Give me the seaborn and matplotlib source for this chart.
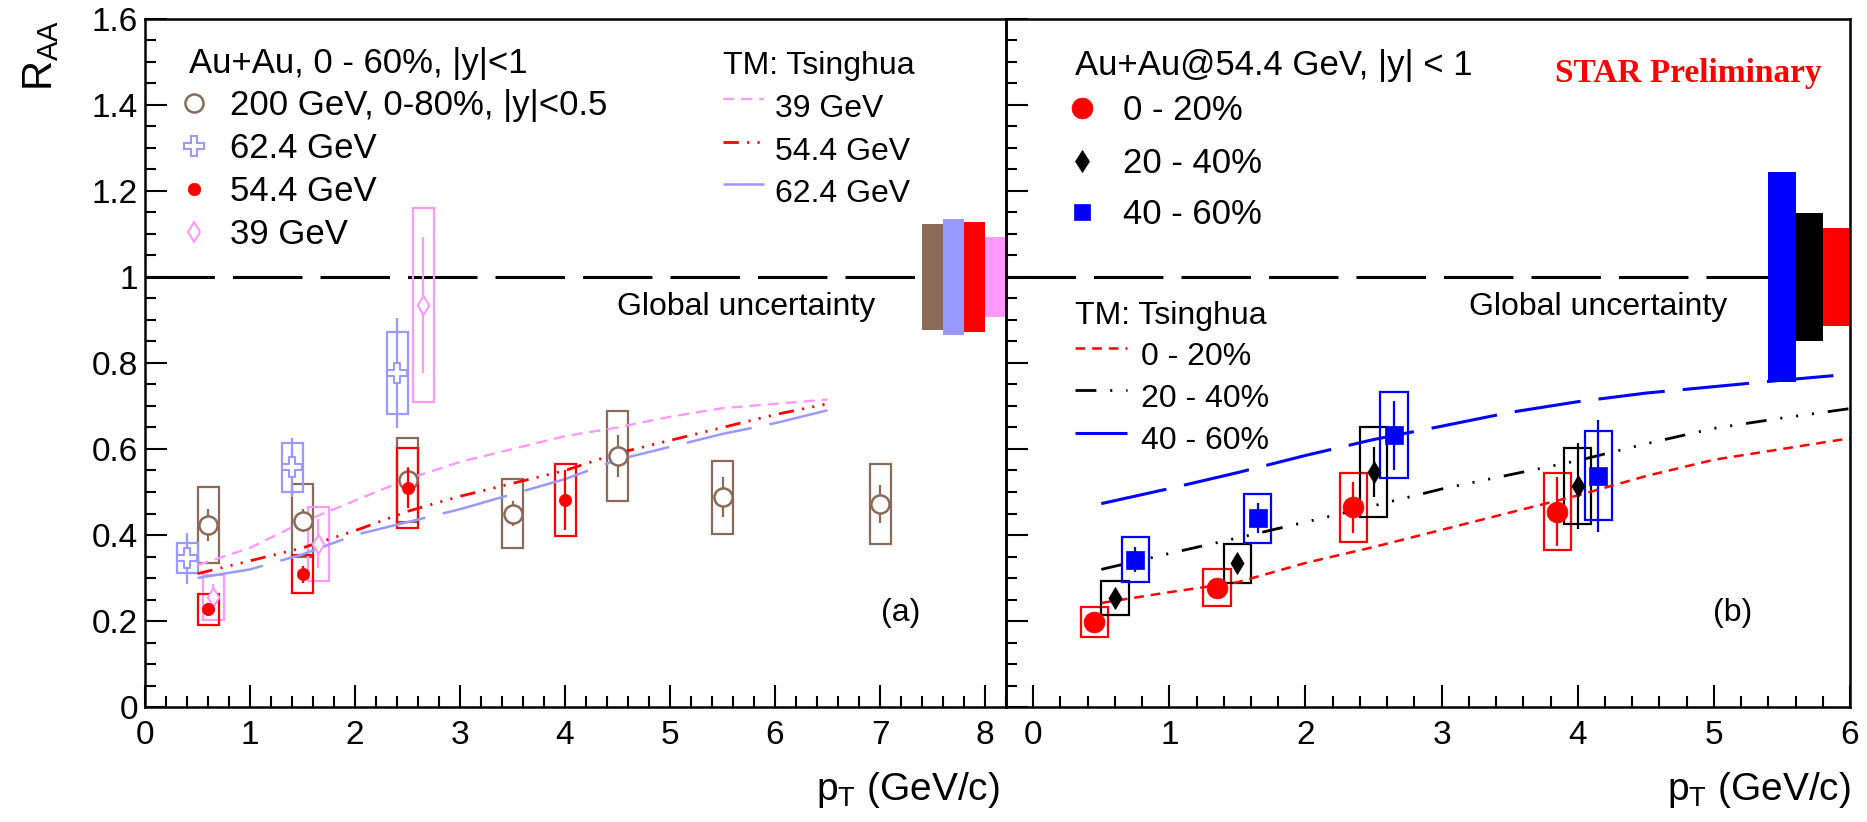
import numpy as np
import pandas as pd
import matplotlib
matplotlib.use("Agg")
import matplotlib.pyplot as plt
import matplotlib.transforms as mtransforms
from matplotlib.lines import Line2D
from matplotlib.patches import Rectangle
from matplotlib.ticker import MultipleLocator, FixedLocator, FixedFormatter
import seaborn as sns

# ---------------- panel (a): Au+Au 0-60 %, energy comparison ----------------
pt_200 = [0.6, 1.5, 2.5, 3.5, 4.5, 5.5, 7.0]
raa_200 = [0.423, 0.433, 0.528, 0.450, 0.584, 0.488, 0.472]
stat_200 = [0.038, 0.027, 0.030, 0.030, 0.048, 0.046, 0.044]
sys_200 = [0.088, 0.085, 0.097, 0.080, 0.104, 0.085, 0.092]

pt_624 = [0.4, 1.4, 2.4]
raa_624 = [0.346, 0.557, 0.776]
stat_624 = [0.059, 0.069, 0.128]
sys_624 = [0.035, 0.057, 0.095]

pt_544 = [0.6, 1.5, 2.5, 4.0]
raa_544 = [0.227, 0.309, 0.509, 0.481]
stat_544 = [0.015, 0.020, 0.047, 0.070]
sys_544 = [0.036, 0.045, 0.093, 0.083]

pt_39 = [0.65, 1.65, 2.65]
raa_39 = [0.255, 0.380, 0.935]
stat_39 = [0.030, 0.057, 0.158]
sys_39 = [0.053, 0.086, 0.225]

# TM (Tsinghua) model curves, panel (a)
tm_pt_a = [0.5, 1.0, 1.5, 2.0, 2.5, 3.0, 3.5, 4.0, 4.5, 5.0, 5.5, 6.0, 6.5]
tm_39 = [0.33, 0.37, 0.43, 0.48, 0.53, 0.57, 0.60, 0.63, 0.65, 0.675, 0.695, 0.705, 0.715]
tm_544 = [0.31, 0.34, 0.37, 0.41, 0.455, 0.49, 0.52, 0.55, 0.59, 0.62, 0.65, 0.68, 0.705]
tm_624 = [0.30, 0.32, 0.355, 0.40, 0.43, 0.46, 0.495, 0.53, 0.575, 0.605, 0.635, 0.66, 0.69]

# global (normalisation) uncertainties, panel (a): 200, 62.4, 54.4, 39 GeV
glob_a = [0.123, 0.136, 0.128, 0.094]

# ---------------- panel (b): Au+Au 54.4 GeV, centrality classes ----------------
pt_0_20 = [0.45, 1.35, 2.35, 3.85]
raa_0_20 = [0.198, 0.277, 0.464, 0.454]
stat_0_20 = [0.015, 0.020, 0.060, 0.080]
sys_0_20 = [0.035, 0.043, 0.080, 0.090]

pt_20_40 = [0.6, 1.5, 2.5, 4.0]
raa_20_40 = [0.253, 0.334, 0.547, 0.514]
stat_20_40 = [0.015, 0.020, 0.058, 0.100]
sys_20_40 = [0.040, 0.045, 0.105, 0.088]

pt_40_60 = [0.75, 1.65, 2.65, 4.15]
raa_40_60 = [0.343, 0.439, 0.632, 0.538]
stat_40_60 = [0.030, 0.035, 0.080, 0.130]
sys_40_60 = [0.053, 0.057, 0.100, 0.104]

tm_pt_b = [0.5, 1.0, 1.5, 2.0, 2.5, 3.0, 3.5, 4.0, 4.5, 5.0, 5.5, 6.0]
tm_0_20 = [0.242, 0.267, 0.29, 0.335, 0.372, 0.412, 0.452, 0.492, 0.537, 0.575, 0.60, 0.625]
tm_20_40 = [0.32, 0.357, 0.393, 0.43, 0.468, 0.507, 0.54, 0.573, 0.612, 0.648, 0.672, 0.694]
tm_40_60 = [0.473, 0.508, 0.545, 0.585, 0.622, 0.653, 0.685, 0.71, 0.73, 0.745, 0.76, 0.774]

# global uncertainties, panel (b): 40-60, 20-40, 0-20 %
glob_b = [0.245, 0.149, 0.115]

x_ticks_a = ["0", "1", "2", "3", "4", "5", "6", "7", "8"]
x_ticks_b = ["0", "1", "2", "3", "4", "5", "6"]
y_ticks = ["0", "0.2", "0.4", "0.6", "0.8", "1", "1.2", "1.4", "1.6"]

# ---------------- colours ----------------
BROWN = "#8b6a5a"
LBLUE = "#9999ff"
RED = "#ff0000"
PINK = "#ff99ff"
BLUE = "#0000ff"
BLACK = "#000000"

# ---------------- style ----------------
sns.set_theme(style="ticks")
plt.rcParams["font.family"] = ["Liberation Sans", "DejaVu Sans"]
plt.rcParams["mathtext.default"] = "regular"
plt.rcParams["lines.scale_dashes"] = False

W, H = 1867, 822
fig = plt.figure(figsize=(W / 100, H / 100), dpi=100)
fig.patch.set_facecolor("white")
# pixel coordinates measured from the top-left corner of the canvas
PX = mtransforms.Affine2D().scale(1 / W, -1 / H).translate(0, 1) + fig.transFigure

Y0, Y1 = 707, 19
ax_a = fig.add_axes([145 / W, 1 - Y0 / H, (1006 - 145) / W, (Y0 - Y1) / H])
ax_b = fig.add_axes([1006 / W, 1 - Y0 / H, (1850 - 1006) / W, (Y0 - Y1) / H])
ax_b.set_facecolor("none")

DASH_1 = (50, 13)
PINK_DASH = (8, 5)
RED_DDD = (11, 6, 1.5, 6, 1.5, 6, 1.5, 6)
LONG_DASH = (48, 13)
RED_DASH = (7, 5)
BLACK_DDD = (15, 10, 1.5, 10, 1.5, 10, 1.5, 10)


def draw_series(ax, x, y, stat, syst, color, marker, size, face, lw_m=1.6, z=4):
    """Systematic boxes, statistical bars and markers for one data set."""
    for xi, yi, si in zip(x, y, syst):
        ax.add_patch(Rectangle((xi - 0.1, yi - si), 0.2, 2 * si, fill=False,
                               edgecolor=color, linewidth=1.6, zorder=2))
    ax.errorbar(x, y, yerr=stat, fmt="none", ecolor=color, elinewidth=1.6,
                capsize=0, zorder=z - 0.5)
    df = pd.DataFrame({"pt": x, "raa": y})
    sns.scatterplot(data=df, x="pt", y="raa", ax=ax, marker=marker, s=size,
                    facecolor=face, edgecolor=color, linewidth=lw_m,
                    zorder=z, legend=False)


def draw_model(ax, x, y, color, pattern, lw):
    df = pd.DataFrame({"pt": x, "raa": y})
    sns.lineplot(data=df, x="pt", y="raa", ax=ax, color=color, linewidth=lw,
                 errorbar=None, sort=False, zorder=2.5)
    ax.lines[-1].set_linestyle((0, pattern))


# ---------------- panel (a) ----------------
ax_a.plot([0, 7.4], [1, 1], color="black", lw=2.2, linestyle=(0, DASH_1), zorder=1.5)
ax_a.bar([7.4, 7.6, 7.8, 8.0], [2 * g for g in glob_a],
         bottom=[1 - g for g in glob_a], width=0.2, align="edge",
         color=[BROWN, LBLUE, RED, PINK], linewidth=0, zorder=2)

draw_model(ax_a, tm_pt_a, tm_39, PINK, PINK_DASH, 1.7)
draw_model(ax_a, tm_pt_a, tm_544, RED, RED_DDD, 2.0)
draw_model(ax_a, tm_pt_a, tm_624, LBLUE, LONG_DASH, 1.8)

draw_series(ax_a, pt_200, raa_200, stat_200, sys_200, BROWN, "o", 170, "white", 1.8)
draw_series(ax_a, pt_624, raa_624, stat_624, sys_624, LBLUE, "P", 200, "white", 1.5)
draw_series(ax_a, pt_39, raa_39, stat_39, sys_39, PINK, "d", 95, "white", 1.5)
draw_series(ax_a, pt_544, raa_544, stat_544, sys_544, RED, "o", 78, RED, 0.5, z=5)

# ---------------- panel (b) ----------------
ax_b.plot([-0.2, 5.4], [1, 1], color="black", lw=2.2, linestyle=(0, DASH_1), zorder=1.5)
ax_b.bar([5.4, 5.6, 5.8], [2 * g for g in glob_b],
         bottom=[1 - g for g in glob_b], width=0.2, align="edge",
         color=[BLUE, BLACK, RED], linewidth=0, zorder=2)

draw_model(ax_b, tm_pt_b, tm_0_20, RED, RED_DASH, 1.8)
draw_model(ax_b, tm_pt_b, tm_20_40, BLACK, BLACK_DDD, 2.0)
draw_model(ax_b, tm_pt_b, tm_40_60, BLUE, LONG_DASH, 2.2)

draw_series(ax_b, pt_0_20, raa_0_20, stat_0_20, sys_0_20, RED, "o", 225, RED, 0.5)
draw_series(ax_b, pt_20_40, raa_20_40, stat_20_40, sys_20_40, BLACK, "d", 125, BLACK, 0.5)
draw_series(ax_b, pt_40_60, raa_40_60, stat_40_60, sys_40_60, BLUE, "s", 150, BLUE, 0.5)

# ---------------- axes cosmetics ----------------
for ax in (ax_a, ax_b):
    ax.set_xlabel("")
    ax.set_ylabel("")
    ax.set_ylim(0, 1.6)
    ax.yaxis.set_major_locator(FixedLocator(np.arange(9) * 0.2))
    ax.yaxis.set_minor_locator(MultipleLocator(0.05))
    ax.xaxis.set_minor_locator(MultipleLocator(0.2))
    ax.tick_params(which="both", direction="in", top=False, right=False,
                   width=1.5, color="black", labelcolor="black")
    ax.tick_params(which="major", length=16)
    ax.tick_params(which="minor", length=8)
    ax.tick_params(axis="x", pad=9, labelsize=24)
    ax.tick_params(axis="y", pad=5, labelsize=24)
    for sp in ax.spines.values():
        sp.set_visible(True)
        sp.set_linewidth(1.8)
        sp.set_color("black")
    ax.grid(False)

ax_a.set_xlim(0, 8.2)
ax_a.xaxis.set_major_locator(FixedLocator(range(len(x_ticks_a))))
ax_a.xaxis.set_major_formatter(FixedFormatter(x_ticks_a))
ax_a.yaxis.set_major_formatter(FixedFormatter(y_ticks))

ax_b.set_xlim(-0.2, 6)
ax_b.xaxis.set_major_locator(FixedLocator(range(len(x_ticks_b))))
ax_b.xaxis.set_major_formatter(FixedFormatter(x_ticks_b))
ax_b.tick_params(axis="y", labelleft=False)


# ---------------- legends and labels (pixel placement) ----------------
def ptext(x, y, s, **kw):
    kw.setdefault("va", "baseline")
    kw.setdefault("ha", "left")
    kw.setdefault("color", "black")
    fig.text(x, y, s, transform=PX, **kw)


def pmarker(x, y, **kw):
    fig.add_artist(Line2D([x], [y], transform=PX, linestyle="none", **kw))


def pline(x0, x1, y, **kw):
    fig.add_artist(Line2D([x0, x1], [y, y], transform=PX, **kw))


LEG = 25
TM = 23

# panel (a) data legend
ptext(189, 73.5, "Au+Au, 0 - 60%, |y|<1", fontsize=LEG)
rows_a = [
    (103, "200 GeV, 0-80%, |y|<0.5", dict(marker="o", markersize=13, mfc="white", mec=BROWN, mew=1.8)),
    (146, "62.4 GeV", dict(marker="P", markersize=14, mfc="white", mec=LBLUE, mew=1.5)),
    (189, "54.4 GeV", dict(marker="o", markersize=9, mfc=RED, mec=RED, mew=0.5)),
    (232, "39 GeV", dict(marker="d", markersize=9.7, mfc="white", mec=PINK, mew=1.5)),
]
for yc, lab, mk in rows_a:
    pmarker(194, yc, **mk)
    ptext(230.5, yc + 12.4, lab, fontsize=LEG)

# panel (a) model legend
ptext(722.7, 74.4, "TM: Tsinghua", fontsize=TM)
rows_tm_a = [
    (98.7, 117, "39 GeV", PINK, PINK_DASH, 1.7),
    (142, 160.5, "54.4 GeV", RED, RED_DDD, 2.0),
    (183.7, 202, "62.4 GeV", LBLUE, LONG_DASH, 1.8),
]
for yl, yb, lab, c, pat, lw in rows_tm_a:
    pline(722.7, 764.3, yl, color=c, linewidth=lw, linestyle=(0, pat))
    ptext(775.4, yb, lab, fontsize=TM)

ptext(617, 314.5, "Global uncertainty", fontsize=TM)
ptext(881, 613, "(a)", fontsize=TM, va="center")

# panel (b) data legend
ptext(1074.7, 75.3, "Au+Au@54.4 GeV, |y| < 1", fontsize=LEG)
rows_b = [
    (107.9, "0 - 20%", dict(marker="o", markersize=15, mfc=RED, mec=RED, mew=0.5)),
    (160.7, "20 - 40%", dict(marker="d", markersize=11.2, mfc=BLACK, mec=BLACK, mew=0.5)),
    (212, "40 - 60%", dict(marker="s", markersize=12.2, mfc=BLUE, mec=BLUE, mew=0.5)),
]
for yc, lab, mk in rows_b:
    pmarker(1082, yc, **mk)
    ptext(1122.8, yc + 12.4, lab, fontsize=LEG)

ptext(1555, 82, "STAR Preliminary", fontsize=24, color=RED,
      family=["Liberation Serif", "DejaVu Serif"], weight="bold")

# panel (b) model legend
ptext(1074.7, 323.7, "TM: Tsinghua", fontsize=TM)
rows_tm_b = [
    (347.6, 365, "0 - 20%", RED, RED_DASH, 1.8),
    (390, 407.3, "20 - 40%", BLACK, BLACK_DDD, 2.0),
    (432.5, 448.5, "40 - 60%", BLUE, LONG_DASH, 2.2),
]
for yl, yb, lab, c, pat, lw in rows_tm_b:
    pline(1074.7, 1127.2, yl, color=c, linewidth=lw, linestyle=(0, pat))
    ptext(1141, yb, lab, fontsize=TM)

ptext(1469, 314.5, "Global uncertainty", fontsize=TM)
ptext(1713, 613, "(b)", fontsize=TM, va="center")

# axis titles
ptext(1000, 800, r"$p_{T}$ (GeV/c)", fontsize=28, ha="right")
ptext(1851, 800, r"$p_{T}$ (GeV/c)", fontsize=28, ha="right")
ptext(41, 20, r"$R_{AA}$", fontsize=30, rotation=90, ha="center", va="top")

fig.savefig("out.png", dpi=100, facecolor="white")
